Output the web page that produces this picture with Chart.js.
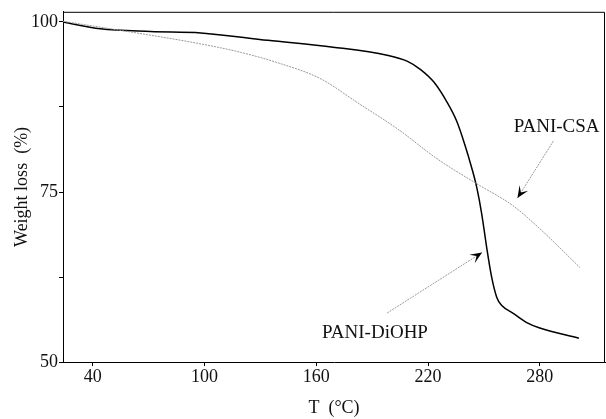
<!DOCTYPE html>
<html>
<head>
<meta charset="utf-8">
<script src="https://cdn.jsdelivr.net/npm/chart.js@4/dist/chart.umd.min.js"></script>
<style>
  body { margin: 0; background: #fff; }
  canvas { display: block; }
</style>
</head>
<body>
<canvas id="tgaChart" width="606" height="419"></canvas>
<script>
// du lieu doc tu hinh
const diohpT = [24, 44, 71, 98, 134, 169, 198, 209, 216, 223, 230, 235.4, 239.7, 243.5, 246.2, 248.8, 251.5, 254.2, 256.9, 259.6, 265.5, 273, 280, 301];
const diohpW = [100.0, 99.0, 98.6, 98.4, 97.3, 96.3, 95.1, 94.2, 93.0, 91.2, 88.3, 85.4, 82.0, 78.5, 75.6, 71.8, 66.8, 62.4, 59.5, 58.3, 57.2, 55.8, 55.0, 53.5];

const csaT = [24, 61, 97.6, 120, 140.5, 162, 183.4, 203, 225.3, 246.2, 265.5, 280, 301.5];
const csaW = [100.1, 98.5, 96.8, 95.5, 93.9, 91.7, 87.9, 84.4, 79.8, 76.2, 73.0, 69.6, 63.9];

const xTicks = [40, 100, 160, 220, 280];
const yTicks = [50, 62.5, 75, 87.5, 100];
const yLabels = ['50', '', '75', '', '100'];

// nhan + mui ten (toa do du lieu)
const labelNames = ['PANI-CSA', 'PANI-DiOHP'];
const labelT = [289, 191.5];
const labelW = [84.5, 54.2];
const arrowFromT = [287.3, 198];
const arrowFromW = [82.5, 57.2];
const arrowToT = [268, 249];
const arrowToW = [74.1, 66.1];

const serif = "'Liberation Serif', 'Times New Roman', serif";

function toPoints(xs, ys) {
    return xs.map((x, i) => ({ x: x, y: ys[i] }));
}

// khung tren + phai
const frameBox = {
    id: 'frameBox',
    afterDraw(chart) {
        const { ctx, chartArea } = chart;
        ctx.save();
        ctx.strokeStyle = '#000';
        ctx.lineWidth = 1;
        ctx.beginPath();
        ctx.moveTo(chartArea.left, chartArea.top + 0.5);
        ctx.lineTo(chartArea.right - 0.5, chartArea.top + 0.5);
        ctx.lineTo(chartArea.right - 0.5, chartArea.bottom);
        ctx.stroke();
        ctx.restore();
    }
};

// chu thich va mui ten
const arrowLabels = {
    id: 'arrowLabels',
    afterDatasetsDraw(chart) {
        const { ctx } = chart;
        const xs = chart.scales.x, ys = chart.scales.y;
        ctx.save();
        ctx.font = '19px ' + serif;
        ctx.fillStyle = '#111';
        ctx.textAlign = 'center';
        ctx.textBaseline = 'middle';
        labelNames.forEach((name, i) => {
            ctx.fillText(name, xs.getPixelForValue(labelT[i]), ys.getPixelForValue(labelW[i]));
        });
        for (let i = 0; i < arrowFromT.length; i++) {
            const x1 = xs.getPixelForValue(arrowFromT[i]), y1 = ys.getPixelForValue(arrowFromW[i]);
            const x2 = xs.getPixelForValue(arrowToT[i]), y2 = ys.getPixelForValue(arrowToW[i]);
            ctx.strokeStyle = '#999';
            ctx.lineWidth = 1;
            ctx.setLineDash([2, 1]);
            ctx.beginPath();
            ctx.moveTo(x1, y1);
            ctx.lineTo(x2, y2);
            ctx.stroke();
            ctx.setLineDash([]);
            const a = Math.atan2(y2 - y1, x2 - x1);
            const len = 13, spread = 0.4;
            ctx.fillStyle = '#000';
            ctx.beginPath();
            ctx.moveTo(x2, y2);
            ctx.lineTo(x2 - len * Math.cos(a - spread), y2 - len * Math.sin(a - spread));
            ctx.lineTo(x2 - len * 0.5 * Math.cos(a), y2 - len * 0.5 * Math.sin(a));
            ctx.lineTo(x2 - len * Math.cos(a + spread), y2 - len * Math.sin(a + spread));
            ctx.closePath();
            ctx.fill();
        }
        ctx.restore();
    }
};

const config = {
    type: 'line',
    data: {
        datasets: [
            {
                label: 'PANI-CSA',
                data: toPoints(csaT, csaW),
                borderColor: '#999',
                borderWidth: 1,
                borderDash: [2, 1],
                pointRadius: 0,
                fill: false,
                cubicInterpolationMode: 'monotone'
            },
            {
                label: 'PANI-DiOHP',
                data: toPoints(diohpT, diohpW),
                borderColor: '#000',
                borderWidth: 1.5,
                pointRadius: 0,
                fill: false,
                cubicInterpolationMode: 'monotone'
            }
        ]
    },
    options: {
        responsive: false,
        animation: false,
        devicePixelRatio: 1,
        layout: { padding: { top: 10, right: 1, left: 0, bottom: 0 } },
        plugins: {
            legend: { display: false },
            tooltip: { enabled: false }
        },
        scales: {
            x: {
                type: 'linear',
                min: 24,
                max: 315,
                afterBuildTicks: (scale) => { scale.ticks = xTicks.map(v => ({ value: v })); },
                afterFit: (scale) => { scale.height = 57; },
                ticks: {
                    color: '#111',
                    font: { family: serif, size: 18 },
                    padding: 0,
                    maxRotation: 0,
                    autoSkip: false,
                    callback: (v) => String(v)
                },
                grid: { drawOnChartArea: false, tickLength: 4, color: '#000' },
                border: { color: '#000', width: 1 },
                title: {
                    display: true,
                    text: 'T  (°C)',
                    color: '#111',
                    font: { family: serif, size: 18 },
                    padding: { top: 0, bottom: 0 }
                }
            },
            y: {
                type: 'linear',
                min: 50,
                max: 101.5,
                afterBuildTicks: (scale) => { scale.ticks = yTicks.map(v => ({ value: v })); },
                afterFit: (scale) => { scale.width = 63; },
                ticks: {
                    color: '#111',
                    font: { family: serif, size: 18 },
                    padding: 1,
                    autoSkip: false,
                    callback: (v, i) => yLabels[i]
                },
                grid: { drawOnChartArea: false, tickLength: 4, color: '#000' },
                border: { color: '#000', width: 1 },
                title: {
                    display: true,
                    text: 'Weight loss  (%)',
                    color: '#111',
                    font: { family: serif, size: 18 },
                    padding: { top: 11, bottom: 0 }
                }
            }
        }
    },
    plugins: [frameBox, arrowLabels]
};

const ctx = document.getElementById('tgaChart').getContext('2d');
const tgaChart = new Chart(ctx, config);
</script>
</body>
</html>
